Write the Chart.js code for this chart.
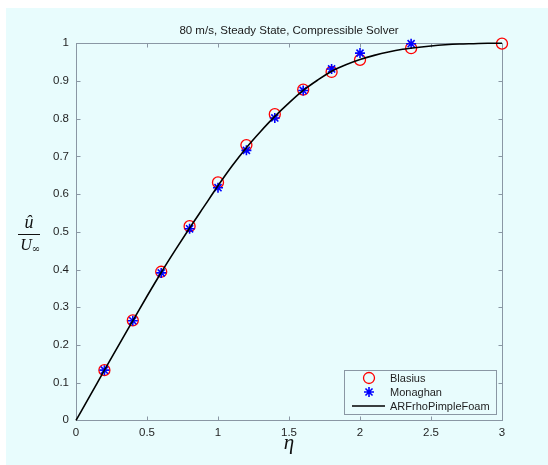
<!DOCTYPE html>
<html>
<head>
<meta charset="utf-8">
<script src="https://cdn.jsdelivr.net/npm/chart.js@4.4.0/dist/chart.umd.min.js"></script>
<style>
    html, body { margin: 0; padding: 0; background: #fff; }
    #wrap { width: 548px; height: 465px; }
</style>
</head>
<body>
<div id="wrap"><canvas id="perfil" width="548" height="465"></canvas></div>
<script>
// Datos
const etaBlasius = [0.2, 0.4, 0.6, 0.8, 1.0, 1.2, 1.4, 1.6, 1.8, 2.0, 2.36, 3.0];
const uBlasius = [0.133, 0.265, 0.394, 0.515, 0.631, 0.730, 0.812, 0.877, 0.924, 0.956, 0.987, 0.999];

const etaMonaghan = [0.2, 0.4, 0.6, 0.8, 1.0, 1.2, 1.4, 1.6, 1.8, 2.0, 2.36];
const uMonaghan = [0.133, 0.264, 0.391, 0.508, 0.617, 0.716, 0.802, 0.875, 0.932, 0.974, 0.999];

const etaFoam = [0, 0.1, 0.2, 0.3, 0.4, 0.5, 0.6, 0.7, 0.8, 0.9, 1.0, 1.1, 1.2, 1.3, 1.4, 1.5,
                 1.6, 1.7, 1.8, 1.9, 2.0, 2.1, 2.2, 2.3, 2.4, 2.5, 2.6, 2.7, 2.8, 2.9, 3.0];
const uFoam = [0, 0.066, 0.133, 0.199, 0.264, 0.329, 0.392, 0.452, 0.510, 0.566, 0.622, 0.675, 0.723,
               0.766, 0.806, 0.842, 0.875, 0.902, 0.926, 0.943, 0.957, 0.968, 0.977, 0.984, 0.989,
               0.993, 0.996, 0.998, 0.999, 1.0, 1.0];

const xTicks = [0, 0.5, 1, 1.5, 2, 2.5, 3];
const yTicks = [0, 0.1, 0.2, 0.3, 0.4, 0.5, 0.6, 0.7, 0.8, 0.9, 1];

const FONDO = '#e8fcfd';
const EJE = '#8a97a4';
const TEXTO = '#1f1f1f';

const puntos = (xs, ys) => xs.map((x, i) => ({x: x, y: ys[i]}));

// dibuja un marcador (circulo o asterisco) como en matlab
function marcador(ctx, tipo, x, y, r, color) {
    ctx.save();
    ctx.strokeStyle = color;
    ctx.lineWidth = tipo === 'circle' ? 1.3 : 1.6;
    ctx.beginPath();
    if (tipo === 'circle') {
        ctx.arc(x, y, r, 0, Math.PI * 2);
    } else {
        ctx.moveTo(x - r, y); ctx.lineTo(x + r, y);
        ctx.moveTo(x, y - r); ctx.lineTo(x, y + r);
        const d = r * Math.SQRT1_2;
        ctx.moveTo(x - d, y - d); ctx.lineTo(x + d, y + d);
        ctx.moveTo(x - d, y + d); ctx.lineTo(x + d, y - d);
    }
    ctx.stroke();
    ctx.restore();
}

const marco = {
    id: 'marco',
    beforeDraw(chart) {
        const ctx = chart.ctx;
        ctx.save();
        ctx.fillStyle = '#ffffff';
        ctx.fillRect(0, 0, chart.width, chart.height);
        ctx.fillStyle = FONDO;
        ctx.fillRect(6, 8, chart.width - 6, chart.height - 8);
        ctx.restore();
    },
    beforeDatasetsDraw(chart) {
        const ctx = chart.ctx;
        const a = chart.chartArea;
        const sx = chart.scales.x, sy = chart.scales.y;
        const L = Math.round(a.left) + 0.5, R = Math.round(a.right) + 0.5;
        const T = Math.round(a.top) + 0.5, B = Math.round(a.bottom) + 0.5;
        ctx.save();
        ctx.strokeStyle = EJE;
        ctx.lineWidth = 1;
        ctx.strokeRect(L, T, R - L, B - T);
        ctx.beginPath();
        xTicks.forEach(v => {
            const px = Math.round(sx.getPixelForValue(v)) + 0.5;
            ctx.moveTo(px, B); ctx.lineTo(px, B - 4);
            ctx.moveTo(px, T); ctx.lineTo(px, T + 4);
        });
        yTicks.forEach(v => {
            const py = Math.round(sy.getPixelForValue(v)) + 0.5;
            ctx.moveTo(L, py); ctx.lineTo(L + 4, py);
            ctx.moveTo(R, py); ctx.lineTo(R - 4, py);
        });
        ctx.stroke();

        // etiqueta del eje y: u gorro / U infinito
        const cx = 29, cy = (a.top + a.bottom) / 2 + 2;
        ctx.fillStyle = '#111';
        ctx.textAlign = 'center';
        ctx.textBaseline = 'alphabetic';
        ctx.font = 'italic 18px "Liberation Serif"';
        ctx.fillText('\u00fb', cx, cy - 6);
        ctx.strokeStyle = '#111';
        ctx.beginPath();
        ctx.moveTo(18, Math.round(cy) + 0.5);
        ctx.lineTo(40, Math.round(cy) + 0.5);
        ctx.stroke();
        ctx.font = 'italic 16px "Liberation Serif"';
        ctx.fillText('U', cx - 3, cy + 16);
        ctx.font = '10px "DejaVu Serif"';
        ctx.fillText('\u221e', cx + 7, cy + 18);
        ctx.restore();
    },
    afterDraw(chart) {
        // leyenda abajo a la derecha, dentro de los ejes
        const ctx = chart.ctx;
        const a = chart.chartArea;
        const w = 152, h = 44;
        const x0 = Math.round(a.right) - 6 - w, y0 = Math.round(a.bottom) - 6 - h;
        ctx.save();
        ctx.fillStyle = FONDO;
        ctx.fillRect(x0, y0, w, h);
        ctx.strokeStyle = EJE;
        ctx.lineWidth = 1;
        ctx.strokeRect(x0 + 0.5, y0 + 0.5, w, h);
        ctx.font = '11px "Liberation Sans"';
        ctx.fillStyle = TEXTO;
        ctx.textBaseline = 'middle';
        ctx.textAlign = 'left';
        chart.data.datasets.forEach((ds, i) => {
            const y = y0 + 8 + i * 14;
            const sxm = x0 + 25;
            if (ds.showLine) {
                ctx.strokeStyle = ds.borderColor;
                ctx.lineWidth = 1.5;
                ctx.beginPath();
                ctx.moveTo(x0 + 8, y); ctx.lineTo(x0 + 41, y);
                ctx.stroke();
            } else {
                marcador(ctx, ds.pointStyle, sxm, y, ds.pointStyle === 'circle' ? 5.5 : 5, ds.borderColor);
            }
            ctx.fillText(ds.label, x0 + 46, y + 0.5);
        });
        ctx.restore();
    }
};

new Chart(document.getElementById('perfil'), {
    type: 'scatter',
    data: {
        datasets: [
            {
                label: 'Blasius',
                data: puntos(etaBlasius, uBlasius),
                pointStyle: 'circle',
                pointRadius: 5.5,
                borderColor: '#ff0000',
                backgroundColor: 'rgba(0,0,0,0)',
                pointBorderWidth: 1.3,
                showLine: false,
                clip: false,
                order: 3
            },
            {
                label: 'Monaghan',
                data: puntos(etaMonaghan, uMonaghan),
                pointStyle: 'star',
                pointRadius: 5,
                borderColor: '#0000ff',
                backgroundColor: '#0000ff',
                pointBorderWidth: 1.6,
                showLine: false,
                clip: false,
                order: 2
            },
            {
                label: 'ARFrhoPimpleFoam',
                data: puntos(etaFoam, uFoam),
                showLine: true,
                borderColor: '#000000',
                borderWidth: 1.6,
                pointRadius: 0,
                cubicInterpolationMode: 'monotone',
                clip: false,
                order: 1
            }
        ]
    },
    options: {
        responsive: false,
        animation: false,
        events: [],
        layout: {padding: {left: 0, right: 46, top: 0, bottom: 0}},
        plugins: {
            legend: {display: false},
            tooltip: {enabled: false},
            title: {
                display: true,
                fullSize: false,
                text: '80 m/s, Steady State, Compressible Solver',
                color: '#1a1a1a',
                font: {family: 'Liberation Sans', size: 11.5, weight: 'normal', lineHeight: 1.2},
                padding: {top: 24, bottom: 5.5}
            }
        },
        scales: {
            x: {
                type: 'linear',
                min: 0,
                max: 3,
                afterBuildTicks: s => { s.ticks = xTicks.map(v => ({value: v})); },
                afterFit: s => { s.height = 44.7; },
                grid: {display: false, drawTicks: false},
                border: {display: false},
                ticks: {
                    color: TEXTO,
                    padding: 6,
                    maxRotation: 0,
                    font: {family: 'Liberation Sans', size: 11.5},
                    callback: v => String(v)
                },
                title: {
                    display: true,
                    text: '\u03b7',
                    color: '#111',
                    font: {family: 'Liberation Serif', style: 'italic', size: 21, lineHeight: 1.2},
                    padding: {top: 0, bottom: 9}
                }
            },
            y: {
                type: 'linear',
                min: 0,
                max: 1,
                afterBuildTicks: s => { s.ticks = yTicks.map(v => ({value: v})); },
                afterFit: s => { s.width = 76; },
                grid: {display: false, drawTicks: false},
                border: {display: false},
                ticks: {
                    color: TEXTO,
                    padding: 7,
                    font: {family: 'Liberation Sans', size: 11.5},
                    callback: v => String(v)
                }
            }
        }
    },
    plugins: [marco]
});
</script>
</body>
</html>
